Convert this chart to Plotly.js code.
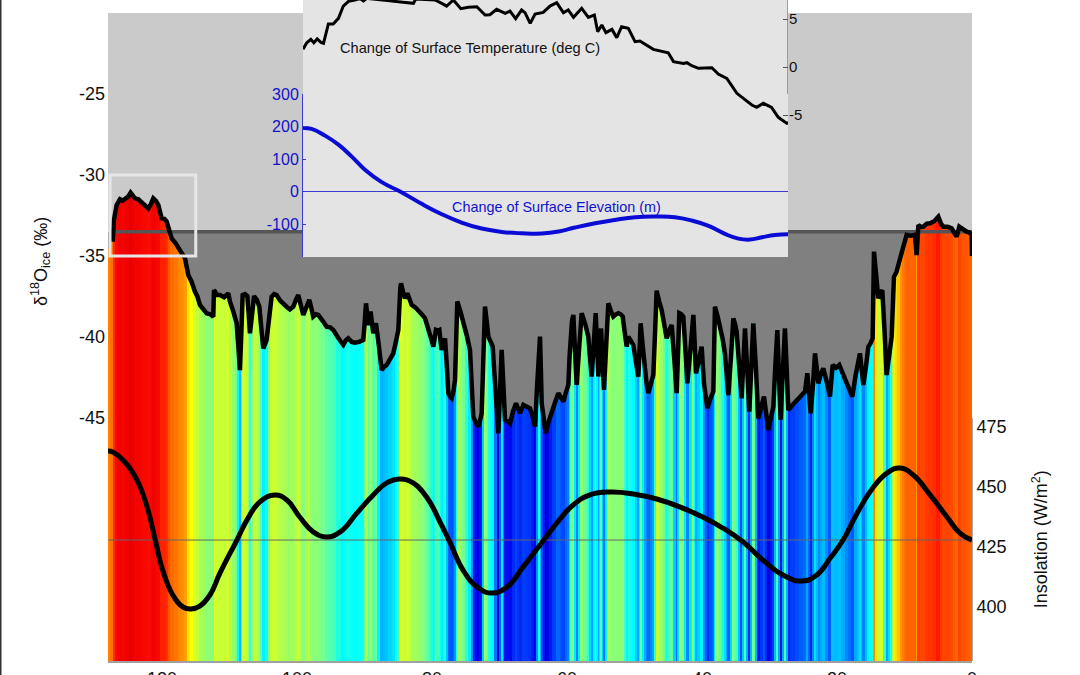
<!DOCTYPE html>
<html>
<head>
<meta charset="utf-8">
<script src="https://cdn.plot.ly/plotly-3.0.1.min.js"></script>
<style>
  html, body { margin: 0; padding: 0; background: #fff; }
  #chart { width: 1080px; height: 675px; }
</style>
</head>
<body>
<div id="chart"></div>
<script>
// --- data ---
const ageKa = [
  128, 127.31, 127.12, 126.72, 126.23, 125.85, 125.49, 125.05, 124.65, 124.3,
  124, 123.5, 123.02, 122.55, 122.03, 121.65, 121.29, 120.9, 120.55, 120.05,
  119.65, 119.31, 118.95, 118.57, 118, 117.34, 116.95, 116.6, 116.1, 115.6,
  115.12, 114.75, 114.38, 113.9, 113.39, 112.85, 112.4, 112.3, 111.85, 111.41,
  110.8, 110.18, 109.93, 109.45, 108.94, 108.7, 108.45, 108.25, 108.05, 107.7,
  107.36, 107.15, 106.97, 106.65, 106.37, 105.95, 105.58, 105.3, 104.99, 104.5,
  104.15, 103.76, 103.4, 103.02, 102.5, 102, 101.54, 101.05, 100.55, 100.15,
  99.81, 99.45, 99.07, 98.6, 98.18, 97.85, 97.59, 97.2, 96.84, 96.2,
  95.61, 95.1, 94.62, 93.9, 93.14, 92.75, 92.4, 91.9, 91.41, 90.8,
  90.18, 89.95, 89.78, 89.6, 89.44, 89.25, 89.09, 88.9, 88.7, 88.5,
  88.3, 87.85, 87.46, 87.1, 86.72, 86.2, 85.73, 85.35, 84.99, 84.7,
  84.59, 84.3, 84, 83.65, 83.3, 83.01, 82.4, 81.78, 81.4, 81.04,
  80.65, 80.3, 80.05, 79.8, 79.6, 79.41, 79.15, 78.91, 78.75, 78.57,
  78.3, 78.07, 77.8, 77.58, 77.3, 77.09, 76.8, 76.59, 76.42, 76.25,
  75.8, 75.36, 74.85, 74.37, 74.1, 73.88, 73.5, 73.14, 72.85, 72.64,
  72.4, 72.15, 71.9, 71.65, 71.3, 71.01, 70.6, 70.17, 69.92, 69.68,
  69.42, 69.18, 68.8, 68.44, 68, 67.55, 67.25, 66.96, 66.47, 66,
  65.48, 65.1, 64.74, 64.4, 64.15, 64, 63.87, 63.75, 63.45, 63.16,
  62.85, 62.52, 61.9, 61.28, 60.9, 60.54, 60.15, 59.8, 59.62, 59.46,
  59.26, 59.06, 58.82, 58.57, 58.2, 57.83, 57.3, 56.84, 56.6, 56.35,
  56.05, 55.75, 55.55, 55.36, 55.15, 54.96, 54.75, 54.52, 54.2, 53.88,
  53.5, 53.14, 52.75, 52.39, 52.05, 51.75, 51.45, 51.16, 50.91, 50.5,
  50.17, 49.8, 49.43, 49.25, 49.09, 48.75, 48.44, 48.2, 47.95, 47.6,
  47.21, 46.95, 46.72, 46.35, 45.98, 45.6, 45.23, 44.85, 44.49, 44.1,
  43.75, 43.55, 43.36, 43.05, 42.77, 42.45, 42.17, 41.7, 41.28, 41.08,
  40.89, 40.45, 40.05, 39.71, 39.45, 39.21, 38.75, 38.32, 38.2, 38.08,
  37.7, 37.34, 36.95, 36.6, 36.35, 36.1, 35.7, 35.36, 35.1, 34.87,
  34.5, 34.13, 33.88, 33.63, 33.3, 32.99, 32.7, 32.4, 32, 31.66,
  31.2, 30.82, 30.5, 30.17, 29.8, 29.43, 29.15, 28.84, 28.6, 28.35,
  28.05, 27.71, 27.45, 27.21, 26.6, 25.98, 25.4, 24.74, 24.4, 24.15,
  23.9, 23.55, 23.26, 23, 22.77, 22.4, 22.03, 21.5, 21.04, 20.64,
  20.15, 19.66, 19.1, 18.57, 18.15, 17.73, 17.24, 16.9, 16.6, 16.35,
  16.1, 15.7, 15.36, 15.05, 14.72, 14.52, 14.2, 13.88, 13.55, 13.29,
  12.95, 12.65, 12.25, 11.9, 11.72, 11.56, 11.2, 10.92, 10.55, 10.17,
  9.9, 9.68, 9.1, 8.45, 8.2, 7.95, 7.6, 7.21, 6.7, 6.22,
  5.6, 4.99, 4.6, 4.25, 3.6, 3.02, 2.65, 2.28, 1.88, 1.3,
  0.79, 0.4, 0.05, 0
];
const d18O = [
  -34.5, -34.11, -32.78, -31.85, -31.5, -31.58, -31.5, -31.35, -31.09, -31.3,
  -31.44, -31.5, -31.71, -31.85, -32.06, -31.8, -31.44, -31.6, -31.85, -32.67,
  -32.7, -32.88, -33.4, -33.91, -34.2, -34.63, -34.8, -35.14, -36.17, -36.6,
  -37.2, -37.5, -38.02, -38.3, -38.54, -38.6, -38.74, -37.1, -37.4, -37.41,
  -37.55, -37.3, -37.82, -38.4, -39.15, -40.5, -42.04, -39.8, -37.41, -37.35,
  -37.47, -38.6, -39.77, -38.6, -37.47, -37.7, -38.13, -39.4, -40.7, -40.18,
  -38.8, -37.51, -37.35, -37.41, -37.75, -38, -38.13, -38.3, -38.13, -37.7,
  -37.41, -38, -38.64, -38.15, -37.71, -38.25, -38.74, -38.6, -38.64, -39,
  -39.36, -39.4, -39.57, -40.05, -40.49, -40.2, -40.08, -40.3, -40.35, -40.3,
  -40.18, -39, -37.92, -38.6, -39.26, -38.8, -38.43, -39.1, -39.77, -39.4,
  -39.15, -40.6, -42.04, -41.85, -41.73, -41.35, -41.01, -40.3, -39.57, -37,
  -36.68, -37.2, -37.61, -37.3, -37.7, -38.02, -38.2, -38.43, -38.65, -38.84,
  -39.3, -39.77, -40.2, -40.59, -40, -39.56, -39.6, -39.56, -40.2, -40.8,
  -40.4, -40.08, -41.8, -43.47, -43.7, -43.78, -43.3, -42.65, -40.2, -37.81,
  -38.4, -39.05, -39.9, -40.8, -42.9, -44.91, -45.3, -45.53, -45.1, -44.71,
  -41.4, -38.12, -39, -39.98, -40.3, -40.59, -43.2, -45.94, -43.4, -40.8,
  -43, -45.12, -45.2, -45.33, -44.6, -44.09, -44.4, -44.71, -44.19, -44.3,
  -44.4, -44.9, -45.53, -42.8, -40.4, -39.98, -42, -44.09, -45, -45.94,
  -45.4, -44.91, -44.2, -43.47, -43.8, -43.99, -43.4, -42.96, -41.2, -39.46,
  -39, -38.64, -40.8, -42.96, -40.7, -38.53, -39.2, -39.98, -41.2, -42.44,
  -40.5, -38.53, -40.5, -42.44, -40.9, -39.46, -41.3, -43.27, -40.6, -37.92,
  -38.4, -38.74, -38.6, -38.53, -38.6, -38.74, -39.7, -40.59, -39.98, -40.3,
  -40.49, -41.5, -42.44, -40.8, -39.15, -40.7, -42.24, -42.9, -43.47, -42.9,
  -42.34, -39.7, -37.14, -37.8, -38.33, -39.2, -40.08, -39.6, -39.26, -41.4,
  -43.47, -41, -38.53, -38.6, -38.74, -40.8, -42.86, -40.7, -38.64, -40.4,
  -42.24, -41.4, -40.6, -42.86, -43.6, -44.4, -43.8, -43.37, -40.7, -38.13,
  -38.7, -39.26, -40.1, -41.01, -42.3, -43.58, -41.2, -38.85, -39.2, -39.67,
  -41.7, -43.79, -41.6, -39.46, -42, -44.61, -41.9, -39.16, -42, -45.02,
  -44.3, -43.68, -44.7, -45.74, -45, -44.3, -41.9, -39.57, -42.3, -45.12,
  -42.3, -39.46, -42, -44.51, -44.2, -43.89, -43.6, -43.37, -42.24, -43.5,
  -44.71, -42.9, -41.01, -41.9, -42.86, -42.3, -41.93, -42.8, -43.68, -41.73,
  -41.9, -41.73, -42.3, -42.86, -43.3, -43.68, -42.35, -41.7, -41.01, -42,
  -42.96, -41.8, -40.6, -40.4, -40.08, -34.73, -36.2, -37.61, -37.3, -37.1,
  -39.7, -42.35, -41.1, -39.98, -38, -36.28, -36, -35.66, -35, -34.42,
  -34, -33.7, -33.75, -33.7, -34.94, -33.09, -33.2, -33.19, -33, -32.98,
  -32.85, -32.57, -33, -33.19, -33.2, -33.29, -33.55, -33.81, -33.19, -33.4,
  -33.5, -33.55, -33.7, -35
];

const insolAge = [
  128, 127.3, 125.5, 123.7, 122.2, 121, 119.9, 118.4, 116.9, 115.7, 114.4, 112.9, 111.4, 108.9, 107.4, 105.5, 103.3, 101.5,
  99.6, 97.6, 95.6, 93.6, 91.1, 88.7, 86.7, 84.7, 82.8, 80.7, 78.8, 77.3, 75.4, 73.3, 71.1, 68.9, 66.5, 64, 61.5, 59.1,
  56.6, 53.6, 50.2, 46.7, 43.3, 39.9, 36.9, 33.9, 31, 28, 25.2, 23, 21, 19.1, 17, 14.7, 12.6, 10.7, 8.7, 6.2, 3.7, 1.8, 0
];
const insolation = [
  465, 464.6, 460.4, 452.9, 441.7, 427.9, 415.4, 405, 400, 399.2, 400.4, 405, 414.2, 427.9, 436.3, 443.8, 446.7, 444.6,
  437.5, 431.3, 429.2, 431.3, 439.2, 446.7, 451.7, 453.3, 451.7, 445.4, 435.4, 426.7, 415.4, 408.3, 405.8, 408.3, 416.7, 425.8, 435, 442.5,
  446.7, 447.9, 447.1, 445, 441.7, 437.5, 432.9, 427.1, 419.6, 413.3, 410.8, 413.3, 420.4, 427.9, 439.2, 449.6, 455.8, 457.9, 455, 446.7, 437.5, 430.8, 427.9
];

const tempAge = [
  128, 127.9, 127.79, 127.71, 127.62, 127.52, 127.45, 127.32, 127.19, 127.05, 126.92, 126.78, 126.61, 126.47, 126.38, 126.29,
  125.8, 125.44, 125.04, 124.98, 124.46, 124.28, 124.15, 123.97, 123.77, 123.57, 123.34, 123.12, 122.99, 122.81, 122.58, 122.45,
  122.3, 122.14, 122.05, 121.91, 121.78, 121.56, 121.38, 121.2, 121.02, 120.89, 120.75, 120.53, 120.35, 120.19, 120.1, 119.99,
  119.88, 119.72, 119.59, 119.46, 119.28, 119.1, 118.97, 118.61, 118.21, 118.07, 117.8, 117.71, 117.58, 117.4, 117.04, 116.87,
  116.64, 116.37, 115.97, 115.84, 115.66, 115.44, 115.26, 115.03, 114.99
];
const tempChange = [
  1.84, 2.53, 2.88, 2.53, 2.92, 2.57, 2.47, 4.48, 4.48, 5.07, 6.35, 6.84, 6.98, 7.12, 6.88, 7.15,
  6.94, 6.81, 6.63, 7.08, 6.98, 6.63, 6.35, 6.98, 6.08, 6.22, 6.28, 5.42, 5.45, 6.01, 5.59, 5.83,
  5.03, 5.94, 5.66, 4.55, 5.52, 5.69, 6.35, 6.7, 5.66, 5.94, 5.17, 6.11, 5.17, 5.42, 3.68, 4.38,
  3.58, 3.92, 3.06, 4.2, 4.03, 2.64, 2.71, 1.84, 1.49, 0.56, 0.38, 0.45, 0.14, -0.14, -0.07, -0.73,
  -1.18, -2.74, -3.96, -4.2, -3.78, -4.2, -5.24, -5.87, -5.8
];

const elevAge = [
  128, 127.77, 127.41, 127.05, 126.7, 126.34, 125.89, 125.35, 124.82, 124.28, 123.75, 123.21, 122.67, 122.14, 121.6,
  121.15, 120.71, 120.17, 119.64, 119.1, 118.56, 118.03, 117.58, 117.13, 116.69, 116.33, 116.02, 115.7, 115.35, 114.99
];
const elevChange = [
  195.9, 192.8, 172.3, 144.6, 108.7, 67.7, 29.7, -2.1, -36.9, -68.7, -94.4, -112.8, -123.1, -127.2, -128.2,
  -122, -109.7, -96.4, -86.2, -77.9, -75.9, -77.9, -88.2, -104.6, -129.2, -143.6, -146.7, -139.5, -132.3, -130.3
];

const thresholdD18O = -33.5;
const insolMean = 427.9;
const axisFloor = -60;

// colour ramp: [d18O, colour]
const rampStops = [
  [-47, 'rgb(0,0,180)'], [-45.5, 'rgb(0,0,235)'], [-44, 'rgb(0,70,255)'], [-42.5, 'rgb(0,160,255)'],
  [-40.4, 'rgb(0,255,255)'], [-39, 'rgb(120,255,140)'], [-38, 'rgb(170,255,80)'], [-36.5, 'rgb(255,255,0)'],
  [-35, 'rgb(255,150,0)'], [-33.5, 'rgb(255,90,0)'], [-32.5, 'rgb(255,20,0)'], [-31.3, 'rgb(240,0,0)'], [-30.5, 'rgb(180,0,0)']
];
const rampMin = rampStops[0][0];
const rampMax = rampStops[rampStops.length - 1][0];
const rampScale = rampStops.map(s => [(s[0] - rampMin) / (rampMax - rampMin), s[1]]);

// --- bands: each one runs between the midpoints of its neighbours ---
const bandEdges = ageKa.map((a, i) => i === 0 ? a : (ageKa[i - 1] + a) / 2);
bandEdges.push(ageKa[ageKa.length - 1]);
const bandCenter = ageKa.map((a, i) => (bandEdges[i] + bandEdges[i + 1]) / 2);
const bandWidth = ageKa.map((a, i) => bandEdges[i] - bandEdges[i + 1]);

const FONT = 'Liberation Sans, Arial, sans-serif';
const BLUE = '#0b0bd6';
const CLEAR = 'rgba(0,0,0,0)';

const traces = [
  {
    type: 'bar', x: bandCenter, y: d18O.map(v => v - axisFloor), base: axisFloor, width: bandWidth,
    marker: { color: d18O, colorscale: rampScale, cmin: rampMin, cmax: rampMax, line: { width: 0 } },
    hoverinfo: 'skip', xaxis: 'x', yaxis: 'y'
  },
  {
    type: 'scatter', mode: 'lines', x: [ageKa[1], 0], y: [thresholdD18O, thresholdD18O],
    line: { color: '#555', width: 3.5 }, hoverinfo: 'skip', xaxis: 'x', yaxis: 'y'
  },
  {
    type: 'scatter', mode: 'lines', x: ageKa.slice(1), y: d18O.slice(1),
    line: { color: '#000', width: 4.5 }, hoverinfo: 'skip', xaxis: 'x', yaxis: 'y'
  },
  {
    type: 'scatter', mode: 'lines', x: [128, 0], y: [insolMean, insolMean],
    line: { color: '#666', width: 1 }, hoverinfo: 'skip', xaxis: 'x', yaxis: 'y2'
  },
  {
    type: 'scatter', mode: 'lines', x: insolAge, y: insolation,
    line: { color: '#000', width: 5, shape: 'spline', smoothing: 1.3 }, hoverinfo: 'skip', xaxis: 'x', yaxis: 'y2'
  },
  {
    type: 'scatter', mode: 'lines', x: tempAge, y: tempChange,
    line: { color: '#000', width: 3 }, hoverinfo: 'skip', xaxis: 'x2', yaxis: 'y3'
  },
  {
    type: 'scatter', mode: 'lines', x: elevAge, y: elevChange,
    line: { color: BLUE, width: 4, shape: 'spline', smoothing: 1.3 }, hoverinfo: 'skip', xaxis: 'x2', yaxis: 'y4'
  }
];

const layout = {
  width: 1080,
  height: 675,
  margin: { l: 108, r: 108, t: 0, b: 14, pad: 0 },
  paper_bgcolor: '#fff',
  plot_bgcolor: CLEAR,
  showlegend: false,
  bargap: 0,
  font: { family: FONT, size: 18, color: '#111' },
  xaxis: {
    domain: [0, 1], range: [128, 0], anchor: 'y', tickvals: [120, 100, 80, 60, 40, 20, 0],
    showgrid: false, zeroline: false, showline: true, linecolor: '#a0a0a0', linewidth: 1.5,
    ticks: '', ticklabelstandoff: 1, tickfont: { size: 18 }
  },
  yaxis: {
    domain: [0, 648 / 661], range: [axisFloor, -20], anchor: 'x', tickvals: [-25, -30, -35, -40, -45],
    ticktext: ['-25', '-30', '-35', '-40', '-45'], ticklabelstandoff: 2,
    showgrid: false, zeroline: false, showline: false, ticks: '', tickfont: { size: 18 }
  },
  yaxis2: {
    domain: [0, 243 / 661], range: [377.5, 478.75], anchor: 'x', side: 'right', tickvals: [400, 425, 450, 475],
    showgrid: false, zeroline: false, showline: true, linecolor: '#aaa', linewidth: 1, ticks: '', tickfont: { size: 18 }
  },
  xaxis2: {
    domain: [195 / 864, 680 / 864], range: [128, 115], anchor: 'y3', visible: false
  },
  yaxis3: {
    domain: [404 / 661, 1], range: [-19.79, 6.98], anchor: 'x2', side: 'right', tickvals: [5, 0, -5],
    ticktext: ['5', '0', '-5'],
    showgrid: false, zeroline: true, zerolinecolor: '#777', zerolinewidth: 1, showline: false,
    ticks: 'inside', ticklen: 5, tickcolor: '#555', tickfont: { size: 15 }
  },
  yaxis4: {
    domain: [404 / 661, 567 / 661], range: [-200, 300], anchor: 'x2', side: 'left', tickvals: [300, 200, 100, 0, -100],
    ticktext: ['300', '200', '100', '0', '-100'],
    showgrid: false, zeroline: true, zerolinecolor: '#3a3ad0', zerolinewidth: 1, showline: true, linecolor: '#3a3ad0', linewidth: 1,
    ticks: 'inside', ticklen: 3, tickcolor: '#3a3ad0', tickfont: { size: 16, color: '#1212cc' }
  },
  shapes: [
    { type: 'rect', layer: 'below', xref: 'x', yref: 'y', x0: 128, x1: 0, y0: axisFloor, y1: thresholdD18O, fillcolor: '#808080', line: { width: 0 } },
    { type: 'rect', layer: 'below', xref: 'x', yref: 'y', x0: 128, x1: 0, y0: thresholdD18O, y1: -20, fillcolor: '#cacaca', line: { width: 0 } },
    { type: 'rect', layer: 'above', xref: 'x', yref: 'y', x0: 127.7, x1: 115, y0: -35, y1: -30, fillcolor: CLEAR, line: { color: '#e6e6e6', width: 3 } },
    { type: 'rect', layer: 'between', xref: 'x2', yref: 'y3', x0: 128, x1: 115, y0: -19.79, y1: 6.98, fillcolor: '#e4e4e4', line: { width: 0 } },
    { type: 'line', layer: 'above', xref: 'x2', yref: 'y3', x0: 115, x1: 115, y0: -2.8, y1: 6.98, line: { color: '#555', width: 1 } },
    { type: 'line', layer: 'above', xref: 'paper', yref: 'paper', x0: -0.1244, x1: -0.1244, y0: -14 / 661, y1: 1, line: { color: '#333', width: 2 } }
  ],
  annotations: [
    { xref: 'x2', yref: 'y3', x: 127.05, y: 2, text: 'Change of Surface Temperature (deg C)', showarrow: false, xanchor: 'left', yanchor: 'middle', font: { size: 14.6, color: '#111' } },
    { xref: 'x2', yref: 'y4', x: 124.05, y: -46, text: 'Change of Surface Elevation (m)', showarrow: false, xanchor: 'left', yanchor: 'middle', font: { size: 14.4, color: '#1212cc' } },
    { xref: 'paper', yref: 'paper', x: -0.0787, y: 0.6036, text: '\u03b4<sup>18</sup>O<sub>ice</sub> (\u2030)', textangle: -90, xanchor: 'center', yanchor: 'middle', showarrow: false, font: { size: 18, color: '#111' } },
    { xref: 'paper', yref: 'paper', x: 1.0787, y: 0.184, text: 'Insolation (W/m<sup>2</sup>)', textangle: -90, xanchor: 'center', yanchor: 'middle', showarrow: false, font: { size: 18, color: '#111' } }
  ]
};

Plotly.newPlot('chart', traces, layout, { displayModeBar: false, staticPlot: true });
</script>
</body>
</html>
